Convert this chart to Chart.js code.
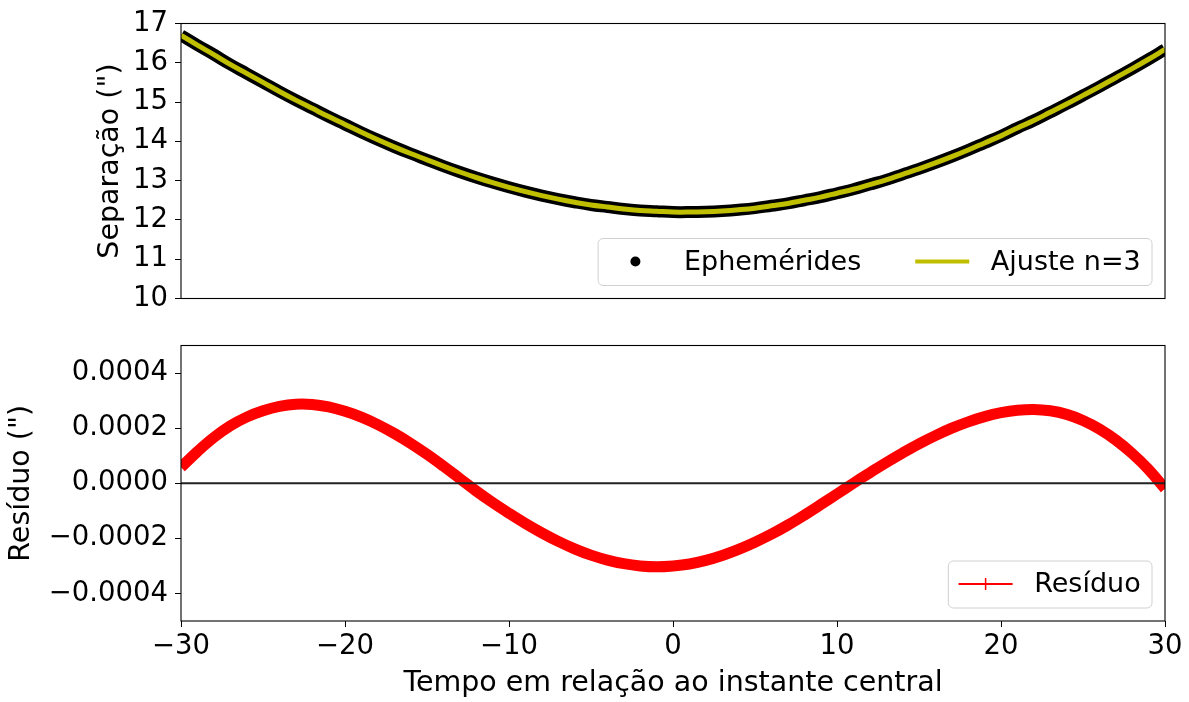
<!DOCTYPE html>
<html><head><meta charset="utf-8">
<script src="https://cdn.jsdelivr.net/npm/chart.js@4.4.1/dist/chart.umd.min.js"></script>
<style>
html,body{margin:0;padding:0;background:#fff;overflow:hidden}
#wrap{position:relative;width:1189px;height:702px;background:#fff}
canvas{position:absolute;left:0}
</style></head>
<body><div id="wrap">
<canvas id="topChart" width="1189" height="322" style="top:0px"></canvas>
<canvas id="botChart" width="1189" height="380" style="top:322px"></canvas>
</div>
<script>
// ---- data ----
const times = [-30,-29,-28,-27,-26,-25,-24,-23,-22,-21,-20,-19,-18,-17,-16,-15,-14,-13,-12,-11,-10,-9,-8,-7,-6,-5,-4,-3,-2,-1,0,1,2,3,4,5,6,7,8,9,10,11,12,13,14,15,16,17,18,19,20,21,22,23,24,25,26,27,28,29,30];
const separation = [16.70,16.45,16.21,15.96,15.73,15.50,15.27,15.05,14.84,14.63,14.43,14.23,14.04,13.86,13.69,13.53,13.37,13.22,13.08,12.95,12.83,12.72,12.62,12.53,12.45,12.38,12.33,12.28,12.24,12.22,12.20,12.20,12.21,12.23,12.26,12.30,12.36,12.42,12.50,12.58,12.68,12.78,12.90,13.02,13.16,13.30,13.45,13.61,13.78,13.96,14.14,14.34,14.53,14.74,14.95,15.17,15.39,15.62,15.85,16.09,16.34];
const fitValues = [16.70,16.45,16.21,15.96,15.73,15.50,15.27,15.05,14.84,14.63,14.43,14.23,14.04,13.86,13.69,13.53,13.37,13.22,13.08,12.95,12.83,12.72,12.62,12.53,12.45,12.38,12.33,12.28,12.24,12.22,12.20,12.20,12.21,12.23,12.26,12.30,12.36,12.42,12.50,12.58,12.68,12.78,12.90,13.02,13.16,13.30,13.45,13.61,13.78,13.96,14.14,14.34,14.53,14.74,14.95,15.17,15.39,15.62,15.85,16.09,16.34];
const residual = [0.000058,0.000115,0.000166,0.000208,0.000240,0.000263,0.000279,0.000287,0.000286,0.000277,0.000261,0.000240,0.000213,0.000181,0.000145,0.000105,0.000062,0.000017,-0.000028,-0.000070,-0.000109,-0.000146,-0.000180,-0.000211,-0.000238,-0.000261,-0.000279,-0.000292,-0.000300,-0.000303,-0.000300,-0.000293,-0.000280,-0.000262,-0.000240,-0.000214,-0.000185,-0.000152,-0.000116,-0.000078,-0.000039,0.000000,0.000038,0.000075,0.000110,0.000143,0.000173,0.000200,0.000223,0.000242,0.000256,0.000265,0.000268,0.000263,0.000250,0.000228,0.000197,0.000157,0.000108,0.000050,-0.000020];
const zeroLineX = [-30, 30];
const zeroLineY = [0, 0];
const xTicks = [-30,-20,-10,0,10,20,30];
const yTicksTop = [10,11,12,13,14,15,16,17];
const yTicksBottom = [-0.0004,-0.0002,0,0.0002,0.0004];

const FONT = "'DejaVu Sans', sans-serif";
const FS = 27.5;     // tick labels
const FT = 28.5;     // axis titles
const FL = 27;       // legend
Chart.defaults.font.family = FONT;
Chart.defaults.color = '#000';

const toPts = (xs, ys) => xs.map((x, i) => ({x: x, y: ys[i]}));
const minus = s => String(s).replace('-', '\u2212');

const frame = {
  id: 'frame',
  afterDatasetsDraw(chart) {
    const {ctx, chartArea: a} = chart;
    ctx.save();
    ctx.strokeStyle = '#000';
    ctx.lineWidth = 1.1;
    ctx.strokeRect(a.left, a.top, a.right - a.left, a.bottom - a.top);
    ctx.restore();
  }
};

function rrect(ctx, x, y, w, h, r) {
  ctx.beginPath();
  ctx.moveTo(x + r, y);
  ctx.lineTo(x + w - r, y);
  ctx.arcTo(x + w, y, x + w, y + r, r);
  ctx.lineTo(x + w, y + h - r);
  ctx.arcTo(x + w, y + h, x + w - r, y + h, r);
  ctx.lineTo(x + r, y + h);
  ctx.arcTo(x, y + h, x, y + h - r, r);
  ctx.lineTo(x, y + r);
  ctx.arcTo(x, y, x + r, y, r);
  ctx.closePath();
}

const mplLegend = {
  id: 'mplLegend',
  afterDraw(chart, args, opts) {
    const ctx = chart.ctx, a = chart.chartArea, fs = FL;
    ctx.save();
    ctx.font = fs + 'px ' + FONT;
    const pad = 0.4 * fs, hl = 2 * fs, htp = 0.8 * fs, cs = 2 * fs;
    let w = pad * 2;
    opts.items.forEach((it, i) => { w += hl + htp + ctx.measureText(it.text).width + (i ? cs : 0); });
    const h = 47;
    const right = a.right - 0.5 * fs, bottom = a.bottom - 0.5 * fs;
    const left = right - w, top = bottom - h;
    rrect(ctx, left + 0.5, top + 0.5, w, h, 5);
    ctx.fillStyle = 'rgba(255,255,255,0.8)';
    ctx.fill();
    ctx.strokeStyle = '#d0d0d0';
    ctx.lineWidth = 1;
    ctx.stroke();
    let x = left + pad;
    const cy = top + h / 2;
    opts.items.forEach((it, i) => {
      if (i) x += cs;
      if (it.kind === 'dot') {
        ctx.beginPath();
        ctx.arc(x + hl / 2, cy, 5, 0, Math.PI * 2);
        ctx.fillStyle = it.color;
        ctx.fill();
      } else {
        ctx.beginPath();
        ctx.moveTo(x, cy); ctx.lineTo(x + hl, cy);
        ctx.strokeStyle = it.color; ctx.lineWidth = it.width;
        ctx.stroke();
        if (it.marker === 'plus') {
          ctx.beginPath();
          ctx.moveTo(x + hl / 2, cy - 6); ctx.lineTo(x + hl / 2, cy + 6);
          ctx.lineWidth = 1.5;
          ctx.stroke();
        }
      }
      x += hl + htp;
      ctx.fillStyle = '#000';
      ctx.textBaseline = 'middle';
      ctx.textAlign = 'left';
      ctx.fillText(it.text, x, cy + 1);
      x += ctx.measureText(it.text).width;
    });
    ctx.restore();
  }
};

const yAxisCommon = {
  grid: {drawOnChartArea: false, tickLength: 6, color: '#000', tickWidth: 1},
  border: {display: false},
  ticks: {padding: 7, font: {size: FS}, color: '#000'},
};

const topPadLeft = 111 - FT * 0.6;
const botPadLeft = 22 - FT * 0.6;

new Chart(document.getElementById('topChart'), {
  type: 'line',
  data: {
    datasets: [
      {label: 'Ajuste n=3', data: toPts(times, fitValues), borderColor: '#bfbf00', borderWidth: 5,
       pointRadius: 0, tension: 0.4, clip: 0, order: 1, fill: false},
      {label: 'Ephemérides', data: toPts(times, separation), borderColor: '#000', borderWidth: 12,
       pointRadius: 0, tension: 0.4, clip: 0, order: 2, fill: false}
    ]
  },
  plugins: [frame, mplLegend],
  options: {
    responsive: false, animation: false, devicePixelRatio: 1,
    layout: {padding: {left: topPadLeft, right: 24, top: 23, bottom: 22}},
    plugins: {
      legend: {display: false}, tooltip: {enabled: false},
      mplLegend: {items: [
        {kind: 'dot', color: '#000', text: 'Ephemérides'},
        {kind: 'line', color: '#bfbf00', width: 4, text: 'Ajuste n=3'}
      ]}
    },
    scales: {
      x: {type: 'linear', min: -30, max: 30, display: false},
      y: Object.assign({}, yAxisCommon, {
        min: 10, max: 17,
        afterBuildTicks: s => { s.ticks = yTicksTop.map(v => ({value: v})); },
        afterFit: s => { s.width = 181 - topPadLeft; },
        ticks: Object.assign({}, yAxisCommon.ticks, {callback: v => minus(v)}),
        title: {display: true, text: 'Separação (")', font: {size: FT}, padding: 0, color: '#000'}
      })
    }
  }
});

new Chart(document.getElementById('botChart'), {
  type: 'line',
  data: {
    datasets: [
      {label: 'zero', data: toPts(zeroLineX, zeroLineY), borderColor: '#222', borderWidth: 2,
       pointRadius: 0, clip: 0, order: 1, fill: false},
      {label: 'Resíduo', data: toPts(times, residual), borderColor: '#ff0000', borderWidth: 11,
       pointRadius: 0, tension: 0.4, clip: 0, order: 2, fill: false}
    ]
  },
  plugins: [frame, mplLegend],
  options: {
    responsive: false, animation: false, devicePixelRatio: 1,
    layout: {padding: {left: botPadLeft, right: 24, top: 22, bottom: 0}},
    plugins: {
      legend: {display: false}, tooltip: {enabled: false},
      mplLegend: {items: [
        {kind: 'line', color: '#ff0000', width: 2, marker: 'plus', text: 'Resíduo'}
      ]}
    },
    scales: {
      x: {
        type: 'linear', min: -30, max: 30,
        afterBuildTicks: s => { s.ticks = xTicks.map(v => ({value: v})); },
        afterFit: s => { s.height = 81; },
        grid: {drawOnChartArea: false, tickLength: 6, color: '#000', tickWidth: 1},
        border: {display: false},
        ticks: {padding: 3, font: {size: FS}, color: '#000', maxRotation: 0, autoSkip: false, callback: v => minus(v)},
        title: {display: true, text: 'Tempo em relação ao instante central', font: {size: FT}, padding: {top: 0, bottom: 1.5}, color: '#000'}
      },
      y: Object.assign({}, yAxisCommon, {
        min: -0.0005, max: 0.0005,
        afterBuildTicks: s => { s.ticks = yTicksBottom.map(v => ({value: v})); },
        afterFit: s => { s.width = 181 - botPadLeft; },
        ticks: Object.assign({}, yAxisCommon.ticks, {callback: v => minus(Math.abs(v) < 1e-12 ? '0.0000' : v.toFixed(4))}),
        title: {display: true, text: 'Resíduo (")', font: {size: FT}, padding: 0, color: '#000'}
      })
    }
  }
});
</script>
</body></html>
